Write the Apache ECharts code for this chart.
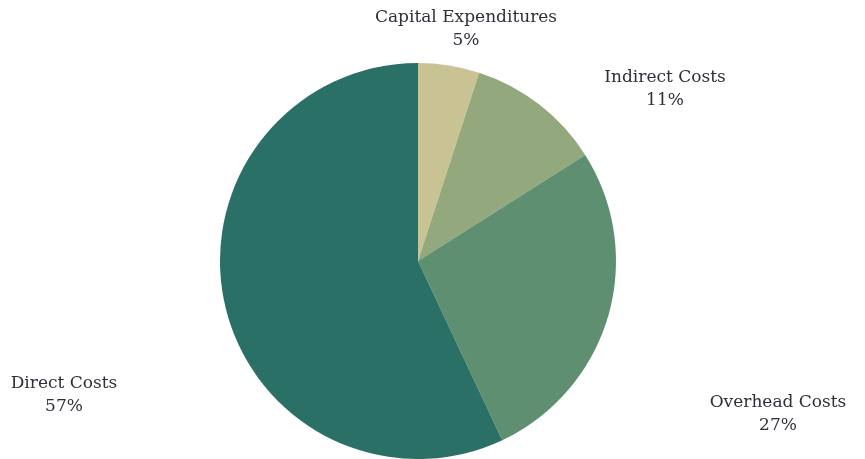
<!DOCTYPE html>
<html>
<head>
<meta charset="utf-8">
<script src="https://cdn.jsdelivr.net/npm/echarts@6/dist/echarts.min.js"></script>
<style>html,body{margin:0;padding:0;background:#fff}#c{width:865px;height:459px}</style>
</head>
<body>
<div id="c"></div>
<script>
const categories = ['Capital Expenditures', 'Indirect Costs', 'Overhead Costs', 'Direct Costs'];
const values = [5, 11, 27, 57];
const colors = ['#c9c394', '#93a87c', '#5e8f70', '#2a7066'];

// label placement (text centre, px) – layout only
const labelCentres = [[466, 29], [665, 89], [778, 414], [64, 395]];

const chart = echarts.init(document.getElementById('c'), null, {renderer: 'canvas'});
chart.setOption({
  animation: false,
  series: [{
    type: 'pie',
    center: [418, 261],
    radius: 198,
    startAngle: 90,
    clockwise: true,
    data: categories.map((n, i) => ({name: n, value: values[i], itemStyle: {color: colors[i]}})),
    itemStyle: {borderWidth: 0},
    label: {
      show: true,
      position: 'outside',
      formatter: p => '{a|' + p.name + '}\n{a|' + Math.round(p.percent) + '%}',
      rich: {a: {fontFamily: 'DejaVu Serif', fontSize: 17, color: '#2d3039', lineHeight: 23, align: 'center'}}
    },
    labelLine: {show: false},
    labelLayout: p => ({
      x: labelCentres[p.dataIndex][0],
      y: labelCentres[p.dataIndex][1],
      align: 'center',
      verticalAlign: 'middle'
    })
  }]
});
</script>
</body>
</html>
